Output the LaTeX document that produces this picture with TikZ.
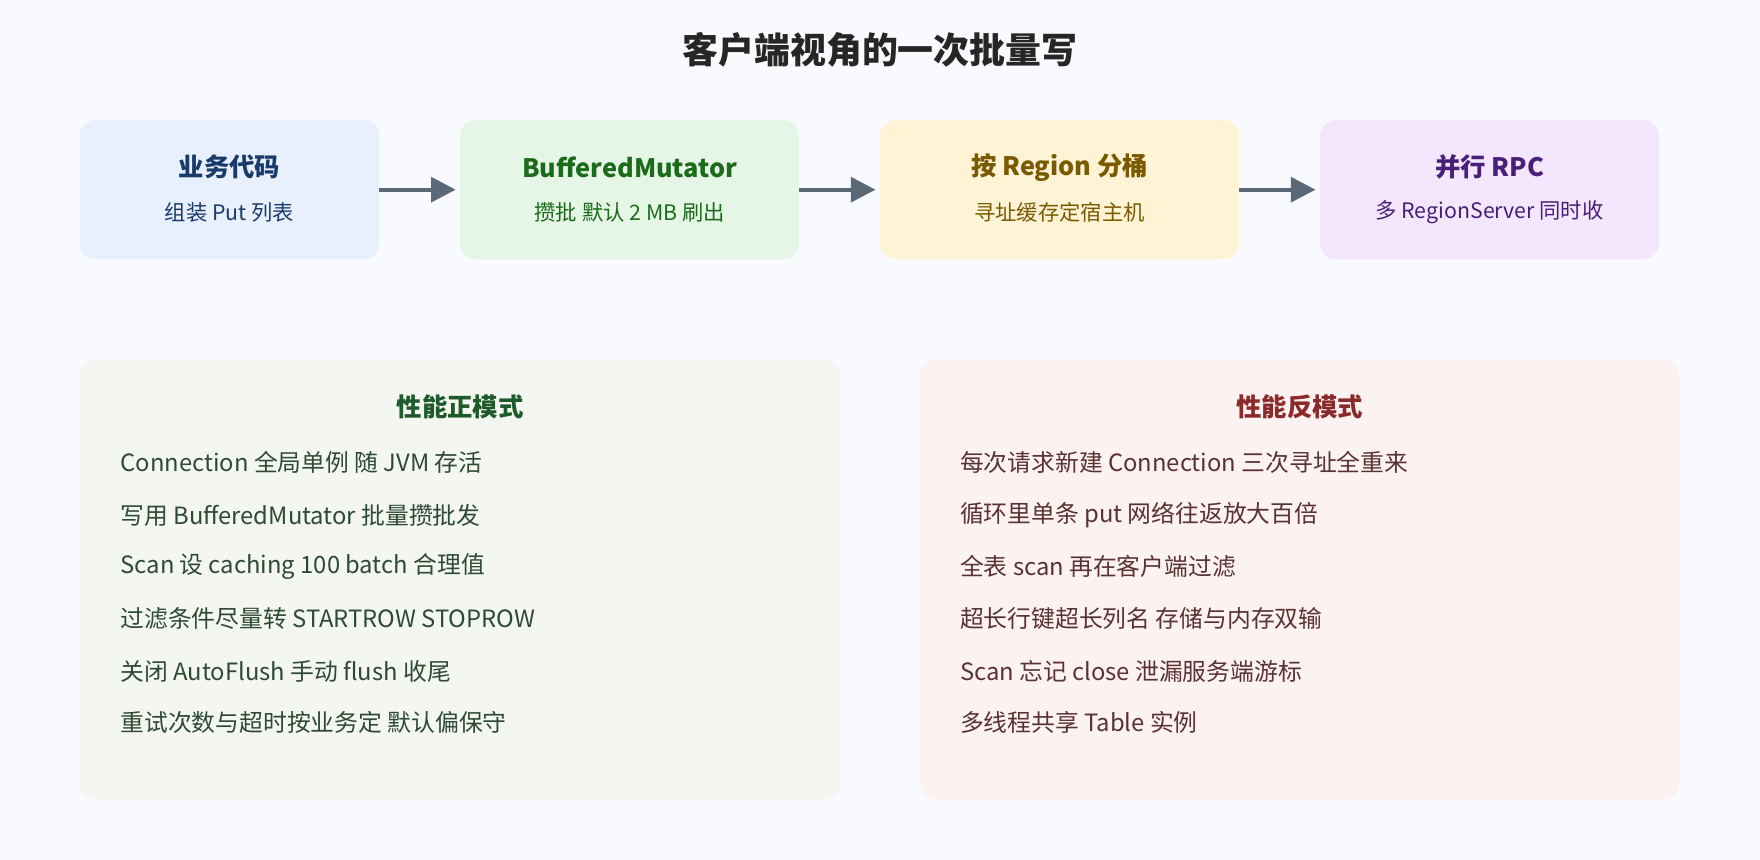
\documentclass[tikz,border=0pt]{standalone}
\usepackage{fontspec}
\setmainfont{Noto Sans CJK SC}
\usetikzlibrary{arrows.meta}
\definecolor{bg}{HTML}{F8FAFD}
\definecolor{fa}{HTML}{E8F0FD}\definecolor{ta}{HTML}{1A3A6B}
\definecolor{fb}{HTML}{E5F5E6}\definecolor{tb}{HTML}{1B6B1B}
\definecolor{fc}{HTML}{FFF3D6}\definecolor{tc}{HTML}{7A5A00}
\definecolor{fd}{HTML}{F4E6FC}\definecolor{td}{HTML}{4A1F7A}
\definecolor{arr}{HTML}{5A6878}
\definecolor{pl}{HTML}{F3F6F1}\definecolor{plt}{HTML}{1F5A2A}\definecolor{pltx}{HTML}{2F4A33}
\definecolor{pr}{HTML}{FDF2F2}\definecolor{prt}{HTML}{8B2A2A}\definecolor{prtx}{HTML}{5A3232}
\begin{document}
\begin{tikzpicture}[x=0.5pt,y=-0.5pt,
  box/.style={rounded corners=7pt,draw=none},
  bt/.style={font=\fontsize{11.3}{13}\selectfont\bfseries},
  bs/.style={font=\fontsize{9.5}{11}\selectfont},
  ar/.style={draw=arr,line width=1.8pt,-{Triangle[length=11pt,width=11pt]}},
  it/.style={anchor=west,inner sep=0pt,font=\fontsize{10.6}{12}\selectfont},
  pt/.style={font=\fontsize{11.3}{13}\selectfont\bfseries}]
\fill[bg] (0,0) rectangle (1568,766);
\useasboundingbox (0,0) rectangle (1568,766);
\node[font=\fontsize{16}{18}\selectfont\bfseries,text=black!85] (title) at (784,44) {客户端视角的一次批量写};
\fill[box,fa] (71,107) rectangle (338,231);
\fill[box,fb] (410,107) rectangle (712,231);
\fill[box,fc] (784,107) rectangle (1104,231);
\fill[box,fd] (1176,107) rectangle (1478,231);
\node[bt,text=ta] (t1) at (204.5,149) {业务代码};
\node[bs,text=ta] (s1) at (204.5,189) {组装 Put 列表};
\node[bt,text=tb] (t2) at (561,149) {BufferedMutator};
\node[bs,text=tb] (s2) at (561,189) {攒批 默认 2 MB 刷出};
\node[bt,text=tc] (t3) at (944,149) {按 Region 分桶};
\node[bs,text=tc] (s3) at (944,189) {寻址缓存定宿主机};
\node[bt,text=td] (t4) at (1327,149) {并行 RPC};
\node[bs,text=td] (s4) at (1327,189) {多 RegionServer 同时收};
\coordinate (a1s) at (338,169); \coordinate (a1e) at (406,169);
\coordinate (a2s) at (712,169); \coordinate (a2e) at (780,169);
\coordinate (a3s) at (1104,169); \coordinate (a3e) at (1172,169);
\draw[ar] (a1s) -- (a1e); \draw[ar] (a2s) -- (a2e); \draw[ar] (a3s) -- (a3e);
\fill[box,pl] (71,321) rectangle (748,712);
\fill[box,pr] (820,321) rectangle (1496,712);
\node[pt,text=plt] (lt) at (410,362) {性能正模式};
\node[pt,text=prt] (rt) at (1158,362) {性能反模式};
\begin{scope}[every node/.append style={it,text=pltx}]
\node (l1) at (107,412) {Connection 全局单例 随 JVM 存活};
\node (l2) at (107,459) {写用 BufferedMutator 批量攒批发};
\node (l3) at (107,505) {Scan 设 caching 100 batch 合理值};
\node (l4) at (107,551) {过滤条件尽量转 STARTROW STOPROW};
\node (l5) at (107,598) {关闭 AutoFlush 手动 flush 收尾};
\node (l6) at (107,644) {重试次数与超时按业务定 默认偏保守};
\end{scope}
\begin{scope}[every node/.append style={it,text=prtx}]
\node (r1) at (855,412) {每次请求新建 Connection 三次寻址全重来};
\node (r2) at (855,459) {循环里单条 put 网络往返放大百倍};
\node (r3) at (855,505) {全表 scan 再在客户端过滤};
\node (r4) at (855,551) {超长行键超长列名 存储与内存双输};
\node (r5) at (855,598) {Scan 忘记 close 泄漏服务端游标};
\node (r6) at (855,644) {多线程共享 Table 实例};
\end{scope}
\end{tikzpicture}
\end{document}
